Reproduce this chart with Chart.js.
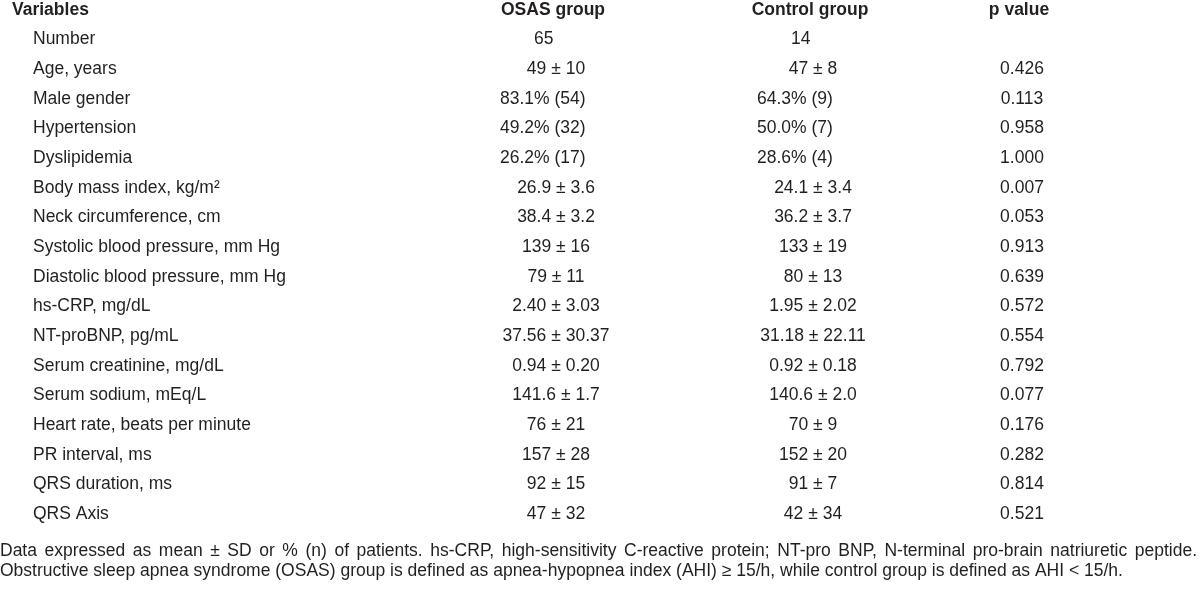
<!DOCTYPE html>
<html>
<head>
<meta charset="utf-8">
<script src="https://cdn.jsdelivr.net/npm/chart.js@4/dist/chart.umd.min.js"></script>
<style>
  html, body { margin: 0; padding: 0; background: #fff; }
  canvas { display: block; }
</style>
</head>
<body>
<canvas id="tableChart" width="1200" height="591"></canvas>
<script>
// Table data
const columnHeaders = ["Variables", "OSAS group", "Control group", "p value"]
const variables = [
  "Number", "Age, years", "Male gender", "Hypertension", "Dyslipidemia",
  "Body mass index, kg/m²", "Neck circumference, cm", "Systolic blood pressure, mm Hg",
  "Diastolic blood pressure, mm Hg", "hs-CRP, mg/dL", "NT-proBNP, pg/mL",
  "Serum creatinine, mg/dL", "Serum sodium, mEq/L", "Heart rate, beats per minute",
  "PR interval, ms", "QRS duration, ms", "QRS Axis",
]
const osasValues = [
  "65", "49 ± 10", "83.1% (54)", "49.2% (32)", "26.2% (17)", "26.9 ± 3.6", "38.4 ± 3.2",
  "139 ± 16", "79 ± 11", "2.40 ± 3.03", "37.56 ± 30.37", "0.94 ± 0.20", "141.6 ± 1.7",
  "76 ± 21", "157 ± 28", "92 ± 15", "47 ± 32",
]
const controlValues = [
  "14", "47 ± 8", "64.3% (9)", "50.0% (7)", "28.6% (4)", "24.1 ± 3.4", "36.2 ± 3.7",
  "133 ± 19", "80 ± 13", "1.95 ± 2.02", "31.18 ± 22.11", "0.92 ± 0.18", "140.6 ± 2.0",
  "70 ± 9", "152 ± 20", "91 ± 7", "42 ± 34",
]
const pValues = [
  "", "0.426", "0.113", "0.958", "1.000", "0.007", "0.053", "0.913", "0.639", "0.572",
  "0.554", "0.792", "0.077", "0.176", "0.282", "0.814", "0.521",
]
const footnotes = [
  "Data expressed as mean ± SD or % (n) of patients. hs-CRP, high-sensitivity C-reactive protein; NT-pro BNP, N-terminal pro-brain natriuretic peptide.",
  "Obstructive sleep apnea syndrome (OSAS) group is defined as apnea-hypopnea index (AHI) ≥ 15/h, while control group is defined as AHI < 15/h.",
]

// layout (column centres on a 0..1200 axis)
const colCentre = [0, 556, 813, 1022]
const FONT = "'Liberation Sans', Arial, sans-serif"
const INK = "#231f20"

function cellPoints(values, col) {
  return values.map((v, i) => ({ x: colCentre[col], y: variables[i] }))
}

const tablePlugin = {
  id: "tableText",
  afterDatasetsDraw(chart) {
    const ctx = chart.ctx
    const yScale = chart.scales.y
    const xScale = chart.scales.x
    ctx.save()
    ctx.fillStyle = INK
    ctx.textBaseline = "middle"

    // header row
    const headY = yScale.getPixelForValue(0)
    ctx.font = "bold 17.5px " + FONT
    ctx.textAlign = "left"
    ctx.fillText(columnHeaders[0], 12, headY)
    ctx.textAlign = "center"
    for (let c = 1; c < columnHeaders.length; c++) {
      ctx.fillText(columnHeaders[c], xScale.getPixelForValue(colCentre[c]) - 3, headY)
    }

    // row labels
    ctx.font = "17.5px " + FONT
    ctx.textAlign = "left"
    variables.forEach((v, i) => {
      ctx.fillText(v, 33, yScale.getPixelForValue(i + 1))
    })

    // cells
    chart.data.datasets.forEach((ds, di) => {
      const meta = chart.getDatasetMeta(di)
      meta.data.forEach((pt, i) => {
        const t = ds.texts[i]
        if (!t) return
        if (t.includes("%")) {
          ctx.textAlign = "left"
          ctx.fillText(t, pt.x - 56, pt.y)
        } else if (/^\d+$/.test(t)) {
          ctx.textAlign = "left"
          ctx.fillText(t, pt.x - 22, pt.y)
        } else {
          ctx.textAlign = "center"
          ctx.fillText(t, pt.x, pt.y)
        }
      })
    })

    // footnotes, first line justified
    ctx.font = "17.5px " + FONT
    ctx.textAlign = "left"
    const words = footnotes[0].split(" ")
    const wordsW = words.reduce((s, w) => s + ctx.measureText(w).width, 0)
    const gap = (1197 - wordsW) / (words.length - 1)
    let x = 0
    words.forEach((w) => {
      ctx.fillText(w, x, 551)
      x += ctx.measureText(w).width + gap
    })
    ctx.fillText(footnotes[1], 0, 571)
    ctx.restore()
  },
}

new Chart(document.getElementById("tableChart").getContext("2d"), {
  type: "scatter",
  data: {
    datasets: [
      { label: columnHeaders[1], data: cellPoints(osasValues, 1), texts: osasValues, pointRadius: 0 },
      { label: columnHeaders[2], data: cellPoints(controlValues, 2), texts: controlValues, pointRadius: 0 },
      { label: columnHeaders[3], data: cellPoints(pValues, 3), texts: pValues, pointRadius: 0 },
    ],
  },
  options: {
    responsive: false,
    animation: false,
    devicePixelRatio: 1,
    layout: { padding: { top: 10, bottom: 77, left: 0, right: 0 } },
    plugins: {
      legend: { display: false },
      tooltip: { enabled: false },
    },
    scales: {
      x: { type: "linear", min: 0, max: 1200, display: false },
      y: {
        type: "category",
        labels: [columnHeaders[0]].concat(variables),
        offset: false,
        display: false,
      },
    },
  },
  plugins: [tablePlugin],
})
</script>
</body>
</html>
